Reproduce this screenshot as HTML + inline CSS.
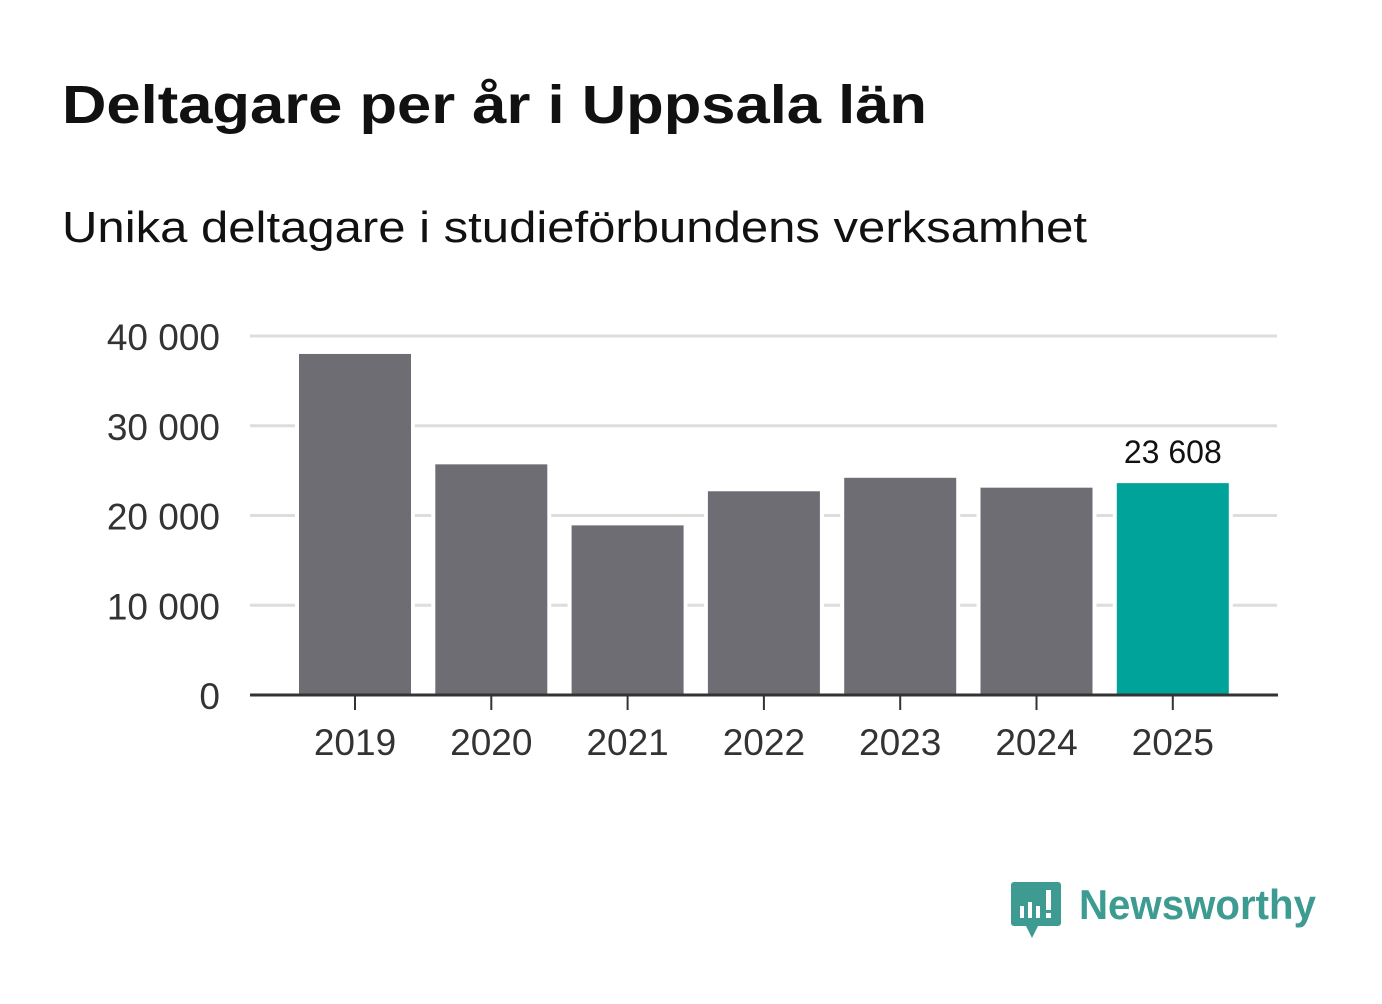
<!DOCTYPE html>
<html><head><meta charset="utf-8"><style>
body{margin:0;background:#fff;width:1382px;height:999px;overflow:hidden;font-family:"Liberation Sans",sans-serif}
</style></head><body>
<svg width="1382" height="999">
<text x="62" y="123" font-size="54" font-weight="bold" fill="#111" textLength="865" lengthAdjust="spacingAndGlyphs">Deltagare per år i Uppsala län</text>
<text x="62" y="242" font-size="44" fill="#111" textLength="1025" lengthAdjust="spacingAndGlyphs">Unika deltagare i studieförbundens verksamhet</text>
<g id="grid"></g><g id="bars"></g><g id="axis"></g>
<g>
<path d="M1014 882 h44 a3 3 0 0 1 3 3 v38 a3 3 0 0 1 -3 3 h-20 l-6 12 l-6 -12 h-12 a3 3 0 0 1 -3 -3 v-38 a3 3 0 0 1 3 -3z" fill="#3d9b92"/>
<rect x="1020" y="906" width="4" height="12" fill="#fff"/><rect x="1028" y="902" width="4" height="16" fill="#fff"/><rect x="1036" y="906" width="4" height="12" fill="#fff"/><rect x="1046" y="890" width="5" height="20" fill="#fff"/><rect x="1046" y="913" width="5" height="5" fill="#fff"/>
<text x="1079" y="919" font-size="42" font-weight="bold" fill="#3d9b92" textLength="237" lengthAdjust="spacingAndGlyphs">Newsworthy</text>
</g>
</svg>
<script>
const categories=["2019","2020","2021","2022","2023","2024","2025"];
const values=[38000,25700,18900,22700,24200,23100,23608];
const yTicks=[0,10000,20000,30000,40000];
const yTickLabels=["0","10 000","20 000","30 000","40 000"];
const ns="http://www.w3.org/2000/svg";
const y=v=>695-v*359/40000;
const x=i=>355+i*136.3;
function mk(t,a,p){const e=document.createElementNS(ns,t);for(const k in a)e.setAttribute(k,a[k]);p.appendChild(e);return e;}
const g=document.getElementById('grid'),b=document.getElementById('bars'),ax=document.getElementById('axis');
yTicks.forEach((v,i)=>{
 if(v>0){const l=mk('line',{x1:250,x2:1277,y1:y(v),y2:y(v),stroke:'#ddd','stroke-width':3},g);
 
 }
 const t=mk('text',{x:220,y:y(v)+14,'font-size':37,fill:'#333','text-anchor':'end'},ax);t.textContent=yTickLabels[i];
 
 
});
categories.forEach((c,i)=>{
 const last=i===categories.length-1;
 const r=mk('rect',{x:x(i)-56,y:y(values[i]),width:112,height:695-y(values[i]),fill:last?'#00a39a':'#6e6d74',stroke:'#fff','stroke-width':8,'paint-order':'stroke'},b);
 
 
 const tk=mk('line',{x1:x(i),x2:x(i),y1:695,y2:710,stroke:'#333','stroke-width':2},ax);
 
 
 const t=mk('text',{x:x(i),y:755,'font-size':37,fill:'#333','text-anchor':'middle'},ax);t.textContent=c;
 
 
 if(last){const vl=mk('text',{x:x(i),y:y(values[i])-20,'font-size':32,fill:'#111','text-anchor':'middle'},ax);
 vl.textContent=values[i].toLocaleString('en').replace(/,/g,' ');
 
 }
});
const base=mk('line',{x1:250,x2:1278,y1:695,y2:695,stroke:'#333','stroke-width':3},ax);


</script>
</body></html>
